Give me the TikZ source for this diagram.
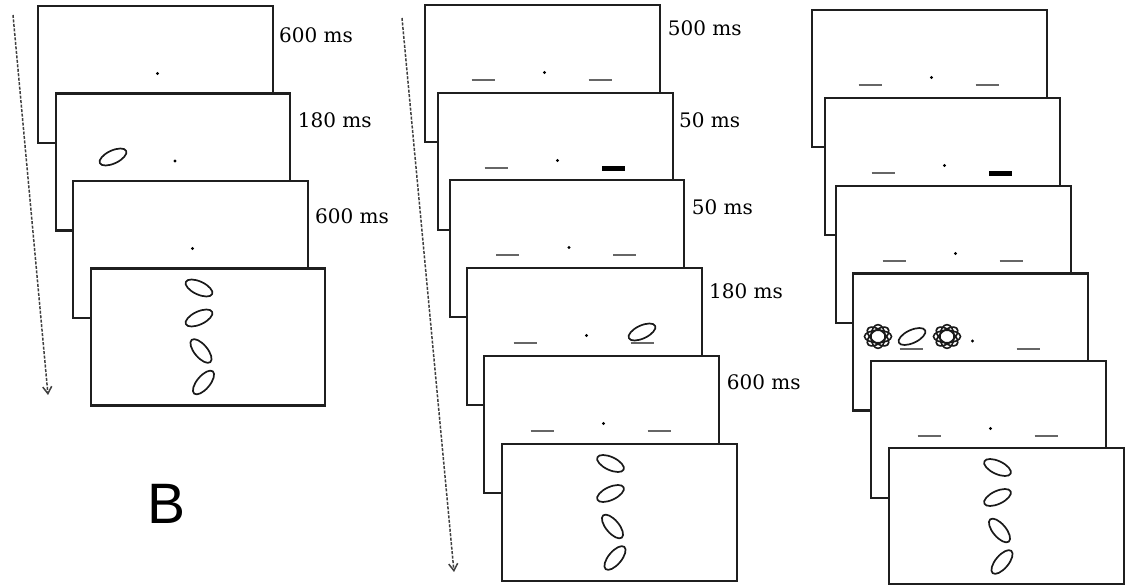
\documentclass[tikz,border=0pt]{standalone}
\usepackage{fontspec}
\usetikzlibrary{shapes.geometric,arrows.meta}
\newfontfamily\labfont{DejaVu Serif}
\newfontfamily\bigfont{Liberation Sans}
\newcommand{\mkdot}{\fill[black] (120.5,68.5) circle (1.6pt);}
\newcommand{\mkph}{\draw[ph] (47.5,76.5) -- (70.5,76.5); \draw[ph] (164.5,76.5) -- (187.5,76.5);}
\newcommand{\mkleft}{\draw[ph] (47.5,76.5) -- (70.5,76.5);}
\newcommand{\mkright}{\draw[ph] (164.5,76.5) -- (187.5,76.5);}
\newcommand{\mkbar}{\fill[black] (164.5,74) rectangle (187.5,79);}
\newcommand{\mkprobes}{%
  \node[stim,rotate=-25] at (109.5,20.5) {};
  \node[stim,rotate=25] at (109.5,50.5) {};
  \node[stim,rotate=-50] at (111.5,83.5) {};
  \node[stim,rotate=50] at (114,115) {};}
\newcommand{\mkcluster}[1]{%
  \begin{scope}[shift={#1},yscale=0.88]
  \foreach \a in {0,45,90,135}{\draw[line width=1.6pt, black!90] (0,0) ellipse [x radius=13.5pt, y radius=7pt, rotate=\a];}
  \end{scope}}
\begin{document}
\begin{tikzpicture}[x=1pt,y=-1pt,
  frame/.style={draw=black!88, line width=2.3pt, fill=white, minimum width=234.5pt, minimum height=137pt, inner sep=0pt, anchor=north west},
  ph/.style={draw=black!60, line width=2pt},
  stim/.style={ellipse, draw=black!90, line width=1.7pt, minimum width=29pt, minimum height=13pt, inner sep=0pt},
  lab/.style={font=\labfont\fontsize{20}{24}\selectfont, anchor=base west, inner sep=0pt},
  timearrow/.style={draw=black!75, line width=1.5pt, dash pattern=on 3pt off 1.5pt, -{Straight Barb[length=7pt,width=9pt]}}]
\useasboundingbox (0,0) rectangle (1128,585);
\fill[white] (0,0) rectangle (1128,585);
% ---------- column 1 ----------
\coordinate (a1s) at (13,15);
\coordinate (a1e) at (48,395);
\draw[timearrow] (a1s) -- (a1e);
\node[frame] (c1f1) at (37,5) {};
\begin{scope}[shift={(37,5)}]\mkdot\end{scope}
\node[frame] (c1f2) at (54.5,92.5) {};
\begin{scope}[shift={(54.5,92.5)}]\mkdot \node[stim,rotate=25] (c1t) at (58.5,64.5) {};\end{scope}
\node[frame] (c1f3) at (72,180) {};
\begin{scope}[shift={(72,180)}]\mkdot\end{scope}
\node[frame] (c1f4) at (89.5,267.5) {};
\begin{scope}[shift={(89.5,267.5)}]\mkprobes\end{scope}
\node[lab] (l11) at (279,42.7) {600 ms};
\node[lab] (l12) at (297.7,127.7) {180 ms};
\node[lab] (l13) at (315,224) {600 ms};
\node[font=\bigfont\fontsize{57}{60}\selectfont, anchor=base, inner sep=0pt] (B) at (167,523) {B};
% ---------- column 2 ----------
\coordinate (a2s) at (402,18);
\coordinate (a2e) at (454,572);
\draw[timearrow] (a2s) -- (a2e);
\node[frame] (c2f1) at (424,4) {};
\begin{scope}[shift={(424,4)}]\mkdot\mkph\end{scope}
\node[frame] (c2f2) at (437,92) {};
\begin{scope}[shift={(437,92)}]\mkdot\mkleft\mkbar\end{scope}
\node[frame] (c2f3) at (448.5,179) {};
\begin{scope}[shift={(448.5,179)}]\mkdot\mkph\end{scope}
\node[frame] (c2f4) at (466,267) {};
\begin{scope}[shift={(466,267)}]\mkdot\mkph \node[stim,rotate=25] (c2t) at (176,65) {};\end{scope}
\node[frame] (c2f5) at (483,355) {};
\begin{scope}[shift={(483,355)}]\mkdot\mkph\end{scope}
\node[frame] (c2f6) at (501,443) {};
\begin{scope}[shift={(501,443)}]\mkprobes\end{scope}
\node[lab] (l21) at (667.7,36) {500 ms};
\node[lab] (l22) at (679,127.7) {50 ms};
\node[lab] (l23) at (691.7,215) {50 ms};
\node[lab] (l24) at (709,299) {180 ms};
\node[lab] (l25) at (726.7,390) {600 ms};
% ---------- column 3 ----------
\node[frame] (c3f1) at (811,9) {};
\begin{scope}[shift={(811,9)}]\mkdot\mkph\end{scope}
\node[frame] (c3f2) at (824,97) {};
\begin{scope}[shift={(824,97)}]\mkdot\mkleft\mkbar\end{scope}
\node[frame] (c3f3) at (835,185) {};
\begin{scope}[shift={(835,185)}]\mkdot\mkph\end{scope}
\node[frame] (c3f4) at (852,272.5) {};
\begin{scope}[shift={(852,272.5)}]\mkdot\mkph
  \node[stim,rotate=25] (c3t) at (60,64) {};
  \mkcluster{(26,64)}
  \mkcluster{(95,64)}
\end{scope}
\node[frame] (c3f5) at (870,360) {};
\begin{scope}[shift={(870,360)}]\mkdot\mkph\end{scope}
\node[frame, minimum height=136pt] (c3f6) at (888,447) {};
\begin{scope}[shift={(888,447)}]\mkprobes\end{scope}
\end{tikzpicture}
\end{document}
